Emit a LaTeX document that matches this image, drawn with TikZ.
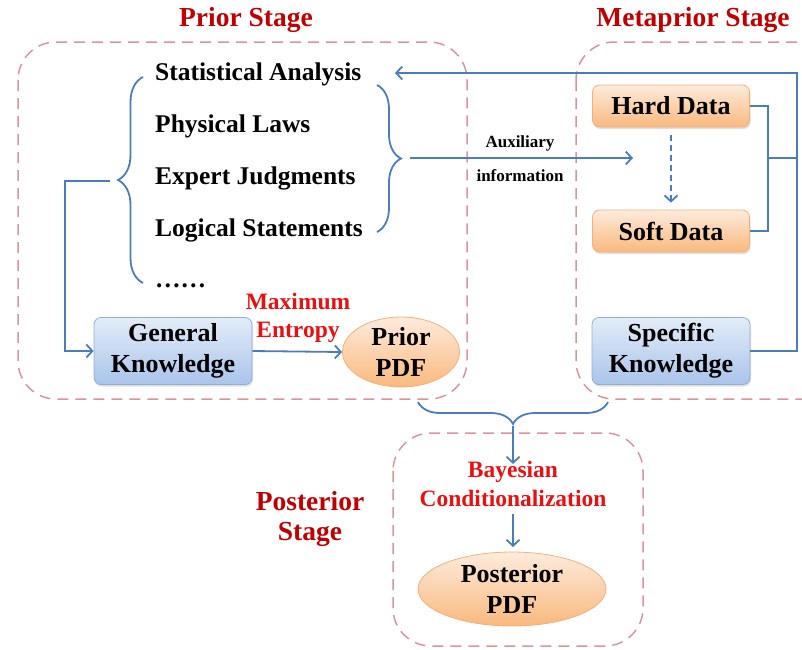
\documentclass[tikz,border=0pt]{standalone}
\usepackage{fontspec}
\setmainfont{Liberation Serif}
\usetikzlibrary{arrows.meta,decorations.pathreplacing,shadows,shapes.geometric}
\definecolor{lineblue}{HTML}{4A7EBB}
\definecolor{stagedash}{HTML}{D9969A}
\definecolor{darkred}{HTML}{C00000}
\definecolor{brightred}{HTML}{E81010}
\definecolor{orTop}{HTML}{FDEBDC}
\definecolor{orBot}{HTML}{F9B97E}
\definecolor{orBorder}{HTML}{F5B07A}
\definecolor{blTop}{HTML}{E3ECF8}
\definecolor{blBot}{HTML}{A9C4EA}
\definecolor{blBorder}{HTML}{90AEDA}
\tikzset{
  x=1pt, y=-1pt,
  stagebox/.style={draw=stagedash, line width=1.5pt, dash pattern=on 11pt off 7pt, rounded corners=38pt},
  conn/.style={draw=lineblue, line width=1.8pt, -{Straight Barb[length=6pt,width=13pt]}},
  plain/.style={draw=lineblue, line width=1.8pt},
  bracestyle/.style={draw=lineblue, line width=1.8pt, decorate},
  orangebox/.style={rectangle, rounded corners=7pt, draw=orBorder, line width=0.8pt, top color=orTop, bottom color=orBot, minimum width=157pt, minimum height=42pt, font=\fontsize{26}{28}\selectfont\bfseries, drop shadow={opacity=0.25, shadow xshift=1pt, shadow yshift=-2pt}},
  bluebox/.style={rectangle, rounded corners=7pt, draw=blBorder, line width=0.8pt, top color=blTop, bottom color=blBot, minimum width=158pt, minimum height=67pt, align=center, font=\fontsize{26}{31}\selectfont\bfseries, drop shadow={opacity=0.25, shadow xshift=1pt, shadow yshift=-2pt}},
  pdfnode/.style={ellipse, draw=orBorder, line width=0.8pt, top color=orTop, bottom color=orBot, align=center, inner sep=0pt, font=\fontsize{26}{31}\selectfont\bfseries},
  item/.style={anchor=west, inner sep=0pt, font=\fontsize{25.5}{27}\selectfont\bfseries},
  stagetitle/.style={text=darkred, align=center, font=\fontsize{27.5}{30}\selectfont\bfseries},
  redlabel/.style={text=brightred, align=center, font=\fontsize{23.5}{28.5}\selectfont\bfseries},
  smalllabel/.style={font=\fontsize{17}{18}\selectfont\bfseries}
}
\begin{document}
\begin{tikzpicture}
\useasboundingbox (0,0) rectangle (802,649);
\clip (0,0) rectangle (802,649);

% stage frames
\draw[stagebox] (18,42) rectangle (467,399);
\draw[stagebox] (576,42) rectangle (850,399);
\draw[stagebox] (393,433) rectangle (643,646);

% titles
\node[stagetitle] (tprior) at (246,20) {Prior Stage};
\node[stagetitle] (tmeta) at (693,20) {Metaprior Stage};
\node[stagetitle] (tpost) at (310,519) {Posterior\\Stage};

% list items
\node[item] (sa) at (155,74) {Statistical Analysis};
\node[item] (pl) at (155,126) {Physical Laws};
\node[item] (ej) at (155,178) {Expert Judgments};
\node[item] (ls) at (155,230) {Logical Statements};
\node[item] (dots) at (155,286) {……};

% braces
\draw[bracestyle, decoration={brace, amplitude=25pt}] (143,283) -- (143,77);
\coordinate (lbtip) at (110,181);
\draw[bracestyle, decoration={brace, amplitude=24pt}] (377,85) -- (377,232);
\coordinate (rbtip) at (410,158);
\draw[bracestyle, decoration={brace, amplitude=22pt}] (608,402) -- (418,402);
\coordinate (bbtip) at (513,426);

% metaprior boxes
\node[orangebox] (hard) at (671,106) {Hard Data};
\node[orangebox] (soft) at (671,231) {Soft Data};
\node[bluebox] (spec) at (671,351) {Specific\\Knowledge};

% prior boxes
\node[bluebox] (gen) at (173,351) {General\\Knowledge};
\node[pdfnode, minimum width=117pt, minimum height=70pt] (prior) at (401,352) {Prior\\PDF};

% posterior
\node[redlabel] (bayes) at (513,484) {Bayesian\\Conditionalization};
\node[pdfnode, minimum width=188pt, minimum height=74pt] (post) at (512,589) {Posterior\\PDF};

% labels
\node[redlabel] (maxent) at (298,318) {Maximum\\Entropy};
\node[smalllabel] (aux) at (520,143) {Auxiliary};
\node[smalllabel] (info) at (520,176) {information};

% connectors
\coordinate (rt) at (797,73);
\coordinate (rb) at (797,351);
\coordinate (rm) at (797,158);
\coordinate (hm) at (768,158);
\coordinate (satip) at (395,73);
\coordinate (auxend) at (633,158);
\coordinate (lc1) at (65,181);
\coordinate (lc2) at (65,351);
\coordinate (barrowend) at (513,547);

\draw[conn] (spec.east) -- (rb) -- (rt) -- (satip);
\draw[plain] (hard.east) -| (hm) |- (soft.east);
\draw[plain] (hm) -- (rm);
\draw[conn] (rbtip) -- (auxend);
\draw[conn, dash pattern=on 6pt off 4pt] ([yshift=-8pt]hard.south) -- ([yshift=7pt]soft.north);
\draw[conn] (lbtip) -- (lc1) -- (lc2) -- (gen.west);
\draw[conn] (gen.east) -- (prior.west);
\draw[conn] (bbtip) -- ([yshift=-6pt]bayes.north);
\draw[conn] ([yshift=-4pt]bayes.south) -- (barrowend);
\end{tikzpicture}
\end{document}
